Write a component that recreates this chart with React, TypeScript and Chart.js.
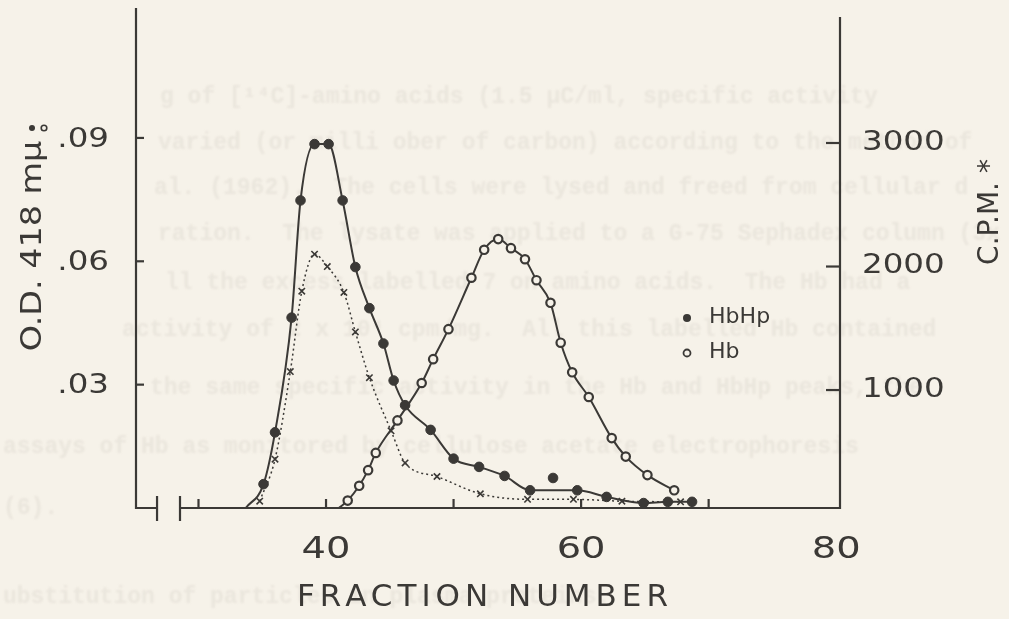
import React, { useEffect, useRef } from "react";
import { Chart, registerables } from "chart.js";

Chart.register(...registerables);

// ---------- data ----------
// HbHp (filled circles), O.D. 418 mμ, left axis
const hbhpFraction = [33.7, 35.1, 36.0, 37.3, 38.0, 39.1, 40.2, 41.3, 42.3, 43.4, 44.5, 45.3, 46.2, 48.2, 50.0, 52.0, 54.0, 56.0, 59.7, 62.0, 64.9, 66.8, 68.7];
const hbhpOD = [0, 0.0058, 0.0184, 0.0463, 0.0748, 0.0885, 0.0885, 0.0748, 0.0586, 0.0486, 0.040, 0.031, 0.025, 0.019, 0.012, 0.010, 0.0078, 0.0043, 0.0043, 0.0027, 0.0012, 0.0015, 0.0015];
// one HbHp point that lies off the drawn curve
const hbhpOffFraction = [57.8];
const hbhpOffOD = [0.0073];
// Hb (open circles), O.D. 418 mμ, left axis
const hbFraction = [41.0, 41.7, 42.6, 43.3, 43.9, 45.6, 47.5, 48.4, 49.6, 51.4, 52.4, 53.5, 54.5, 55.6, 56.5, 57.6, 58.4, 59.3, 60.6, 62.4, 63.5, 65.2, 67.3];
const hbOD = [0, 0.0018, 0.0054, 0.0092, 0.0134, 0.0213, 0.0304, 0.0362, 0.0435, 0.0560, 0.0628, 0.0654, 0.0632, 0.0605, 0.0554, 0.0499, 0.0402, 0.0330, 0.0270, 0.0170, 0.0125, 0.0080, 0.0043];
// C.P.M. (crosses), right axis
const cpmFraction = [34.8, 36.0, 37.2, 38.1, 39.1, 40.1, 41.4, 42.3, 43.4, 45.1, 46.2, 48.7, 52.1, 55.8, 59.4, 63.2, 67.8];
const cpmValues = [100, 440, 1150, 1800, 2100, 2000, 1790, 1470, 1100, 670, 410, 300, 160, 115, 115, 100, 95];

// ---------- axes / labels ----------
const xMin = 25.1;
const xMax = 80.3;
const xTickValues = [30, 40, 50, 60, 70];
const xLabelValues = [40, 60, 80];
const xBreakFrom = 26.75;
const xBreakTo = 28.55;
const odMin = 0;
const odMax = 0.1216;
const odTicks = [0.03, 0.06, 0.09];
const odTickLabels = [".03", ".06", ".09"];
const cpmMin = 45;
const cpmMax = 4093;
const cpmTicks = [1000, 2000, 3000];
const cpmTickLabels = ["1000", "2000", "3000"];
const xTitle = "FRACTION NUMBER";
const yTitle = "O.D. 418 mμ";
const y1Title = "C.P.M. *";
const legendLabels = ["HbHp", "Hb"];

// faint show-through text of the scanned page
const pageLines = [
  "g of [¹⁴C]-amino acids (1.5 μC/ml, specific activity",
  "varied (or milli ober of carbon) according to the method of",
  "al. (1962).  The cells were lysed and freed from cellular d",
  "ration.  The lysate was applied to a G-75 Sephadex column (3x",
  "ll the excess labelled 7 on amino acids.  The Hb had a",
  "activity of 2 x 10⁴ cpm/mg.  All this labelled Hb contained",
  "the same specific activity in the Hb and HbHp peaks, the",
  "assays of Hb as monitored by cellulose acetate electrophoresis",
  "(6).",
  "ubstitution of particles in plasma proteins.",
];

const PAPER = "#f6f2e9";
const INK = "#3b3936";
const FONT = "'DejaVu Sans', sans-serif";

function pts(xs: number[], ys: number[]) {
  return xs.map((x, i) => ({ x, y: ys[i] }));
}

function drawText(
  ctx: CanvasRenderingContext2D,
  s: string,
  x: number,
  y: number,
  size: number,
  o: { align?: CanvasTextAlign; h?: number; rot?: number; spacing?: number; color?: string; font?: string } = {}
) {
  ctx.save();
  ctx.translate(x, y);
  if (o.rot) ctx.rotate(o.rot);
  ctx.scale(o.h ?? 1, 1);
  ctx.font = `${o.font ? "bold " : ""}${size}px ${o.font ?? FONT}`;
  (ctx as any).letterSpacing = `${o.spacing ?? 0}px`;
  ctx.textAlign = o.align ?? "center";
  ctx.textBaseline = "middle";
  ctx.fillStyle = o.color ?? INK;
  ctx.fillText(s, 0, 0);
  ctx.restore();
}

const paperPlugin = {
  id: "paper",
  beforeDraw(chart: any) {
    const ctx: CanvasRenderingContext2D = chart.ctx;
    ctx.save();
    ctx.fillStyle = PAPER;
    ctx.fillRect(0, 0, chart.width, chart.height);
    const rows = [97, 143, 188, 234, 283, 330, 388, 447, 508, 597];
    const starts = [160, 158, 154, 158, 165, 122, 150, 3, 3, 3];
    ctx.filter = "blur(0.9px)";
    pageLines.forEach((line, i) => {
      drawText(ctx, line, starts[i], rows[i], 23, {
        align: "left",
        color: "rgba(140,130,115,0.10)",
        font: "'Liberation Mono', monospace",
      });
    });
    ctx.restore();
  },
};

const framePlugin = {
  id: "frame",
  afterDraw(chart: any) {
    const ctx: CanvasRenderingContext2D = chart.ctx;
    const xs = chart.scales.x;
    const ys = chart.scales.y;
    const y1 = chart.scales.y1;
    const L = chart.chartArea.left;
    const R = chart.chartArea.right;
    const T = chart.chartArea.top;
    const B = ys.getPixelForValue(0);
    ctx.save();
    ctx.strokeStyle = INK;
    ctx.lineWidth = 2.2;
    ctx.lineCap = "butt";
    // left axis
    ctx.beginPath();
    ctx.moveTo(L, T);
    ctx.lineTo(L, B);
    ctx.lineTo(xs.getPixelForValue(xBreakFrom), B);
    ctx.stroke();
    // break marks
    [xBreakFrom, xBreakTo].forEach((v) => {
      const px = xs.getPixelForValue(v);
      ctx.beginPath();
      ctx.moveTo(px, B - 12);
      ctx.lineTo(px, B + 13);
      ctx.stroke();
    });
    // baseline and right axis
    ctx.beginPath();
    ctx.moveTo(xs.getPixelForValue(xBreakTo), B);
    ctx.lineTo(R, B);
    ctx.lineTo(R, T + 9);
    ctx.stroke();
    // x ticks (upwards)
    xTickValues.forEach((v) => {
      const px = xs.getPixelForValue(v);
      ctx.beginPath();
      ctx.moveTo(px, B);
      ctx.lineTo(px, B - 9);
      ctx.stroke();
    });
    // left ticks (inwards)
    odTicks.forEach((v, i) => {
      const py = ys.getPixelForValue(v);
      ctx.beginPath();
      ctx.moveTo(L, py);
      ctx.lineTo(L + 8, py);
      ctx.stroke();
      drawText(ctx, odTickLabels[i], L - 27, py + 2, 26, { align: "right", h: 1.25 });
    });
    // right ticks (inwards)
    cpmTicks.forEach((v, i) => {
      const py = y1.getPixelForValue(v);
      ctx.beginPath();
      ctx.moveTo(R, py);
      ctx.lineTo(R - 14, py);
      ctx.stroke();
      drawText(ctx, cpmTickLabels[i], R + 22, py, 26, { align: "left", h: 1.25 });
    });
    // x labels
    xLabelValues.forEach((v) => {
      drawText(ctx, String(v), xs.getPixelForValue(v), B + 42, 30, { h: 1.28 });
    });
    drawText(ctx, xTitle, 485, 598, 31, { spacing: 5 });
    // left title with its symbols
    drawText(ctx, yTitle, 33, 246, 29, { rot: -Math.PI / 2, h: 1.15 });
    ctx.lineWidth = 1.6;
    ctx.fillStyle = INK;
    ctx.beginPath();
    ctx.arc(32, 128, 3, 0, Math.PI * 2);
    ctx.fill();
    ctx.beginPath();
    ctx.arc(44, 128, 2.8, 0, Math.PI * 2);
    ctx.stroke();
    // right title
    drawText(ctx, y1Title, 991, 212, 28, { rot: -Math.PI / 2 });
    // legend
    const lx = 687;
    const ly = [318, 353];
    ctx.fillStyle = INK;
    ctx.beginPath();
    ctx.arc(lx, ly[0], 4, 0, Math.PI * 2);
    ctx.fill();
    ctx.fillStyle = PAPER;
    ctx.lineWidth = 1.8;
    ctx.beginPath();
    ctx.arc(lx, ly[1], 3.5, 0, Math.PI * 2);
    ctx.fill();
    ctx.stroke();
    legendLabels.forEach((s, i) => drawText(ctx, s, lx + 22, ly[i], 21, { align: "left", h: 1.05 }));
    ctx.restore();
  },
};

export default function App() {
  const ref = useRef<HTMLCanvasElement | null>(null);
  useEffect(() => {
    document.body.style.margin = "0";
    document.body.style.background = PAPER;
    const canvas = ref.current;
    if (!canvas) return;
    const chart = new Chart(canvas, {
      type: "line",
      data: {
        datasets: [
          {
            label: "HbHp",
            data: pts(hbhpFraction, hbhpOD),
            yAxisID: "y",
            borderColor: INK,
            backgroundColor: INK,
            borderWidth: 2,
            pointRadius: (c: any) => (c.dataIndex === 0 ? 0 : 4.8),
            pointBackgroundColor: INK,
            pointBorderColor: INK,
            pointBorderWidth: 1,
            cubicInterpolationMode: "monotone",
            fill: false,
            clip: false,
          },
          {
            label: "HbHp off-curve",
            data: pts(hbhpOffFraction, hbhpOffOD),
            yAxisID: "y",
            showLine: false,
            pointRadius: 4.8,
            pointBackgroundColor: INK,
            pointBorderColor: INK,
            clip: false,
          },
          {
            label: "Hb",
            data: pts(hbFraction, hbOD),
            yAxisID: "y",
            borderColor: INK,
            borderWidth: 2,
            pointRadius: (c: any) => (c.dataIndex === 0 ? 0 : 4.2),
            pointBackgroundColor: PAPER,
            pointBorderColor: INK,
            pointBorderWidth: 2.2,
            cubicInterpolationMode: "monotone",
            fill: false,
            clip: false,
          },
          {
            label: "C.P.M.",
            data: pts(cpmFraction, cpmValues),
            yAxisID: "y1",
            borderColor: INK,
            borderWidth: 1.5,
            borderDash: [2, 3],
            pointStyle: "crossRot",
            pointRadius: 4.5,
            pointBorderColor: INK,
            pointBorderWidth: 1.6,
            cubicInterpolationMode: "monotone",
            fill: false,
            clip: false,
          },
        ],
      },
      options: {
        animation: false,
        responsive: false,
        maintainAspectRatio: false,
        events: [],
        layout: { padding: { left: 136, right: 169, top: 8, bottom: 111 } },
        plugins: { legend: { display: false }, tooltip: { enabled: false } },
        scales: {
          x: { type: "linear", min: xMin, max: xMax, display: false },
          y: { type: "linear", min: odMin, max: odMax, display: false },
          y1: { type: "linear", min: cpmMin, max: cpmMax, display: false, position: "right" },
        },
      },
      plugins: [paperPlugin, framePlugin],
    } as any);
    return () => chart.destroy();
  }, []);
  return <canvas ref={ref} width={1009} height={619} style={{ display: "block" }} />;
}
